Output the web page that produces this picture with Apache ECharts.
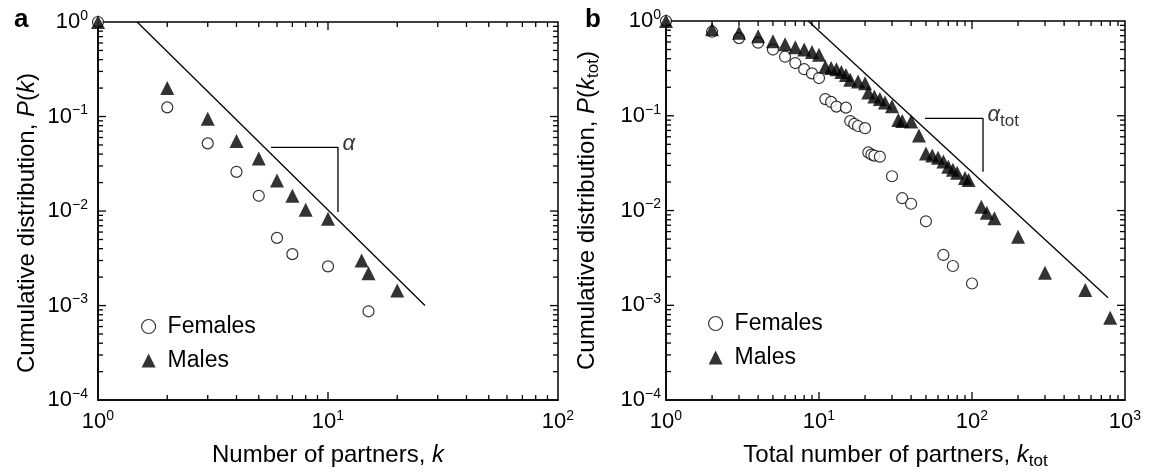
<!DOCTYPE html>
<html><head><meta charset="utf-8">
<script src="https://cdn.jsdelivr.net/npm/echarts@6/dist/echarts.min.js"></script>
<style>html,body{margin:0;padding:0;background:#fff}#c{width:1149px;height:475px}</style>
</head><body><div id="c"></div>
<script>
// ---------- Panel a data ----------
const aFemalesK = [1, 2, 3, 4, 5, 6, 7, 10, 15];
const aFemalesP = [1.0, 0.125, 0.052, 0.026, 0.0145, 0.0052, 0.0035, 0.0026, 0.00087];
const aMalesK = [1, 2, 3, 4, 5, 6, 7, 8, 10, 14, 15, 20];
const aMalesP = [1.0, 0.2, 0.095, 0.055, 0.036, 0.021, 0.0145, 0.0103, 0.0083, 0.0030, 0.0022, 0.00144];
const aFitK = [1.48, 26.4];
const aFitP = [1.0, 0.001];
const aBracketK = [5.65, 11.05, 11.05];
const aBracketP = [0.0472, 0.0472, 0.0098];

// ---------- Panel b data ----------
const bFemalesK = [1, 2, 3, 4, 5, 6, 7, 8, 9, 10, 11, 12, 13, 15, 16, 17, 18, 20, 21, 22, 23, 25, 30, 35, 40, 50, 65, 75, 100];
const bFemalesP = [1.0, 0.77, 0.66, 0.59, 0.50, 0.42, 0.36, 0.31, 0.28, 0.25, 0.15, 0.14, 0.125, 0.122, 0.088, 0.082, 0.078, 0.074, 0.041, 0.039, 0.038, 0.037, 0.023, 0.0135, 0.0118, 0.0077, 0.0034, 0.0026, 0.0017];
const bMalesK = [1, 2, 3, 4, 5, 6, 7, 8, 9, 10, 11, 12, 13, 14, 15, 16, 18, 20, 21, 23, 25, 27, 30, 33, 35, 40, 45, 50, 55, 60, 65, 70, 75, 80, 90, 95, 115, 125, 140, 200, 300, 550, 800];
const bMalesP = [1.0, 0.82, 0.75, 0.69, 0.61, 0.57, 0.53, 0.50, 0.47, 0.44, 0.33, 0.32, 0.31, 0.29, 0.27, 0.24, 0.23, 0.22, 0.176, 0.16, 0.15, 0.138, 0.126, 0.09, 0.088, 0.087, 0.062, 0.040, 0.038, 0.036, 0.033, 0.029, 0.027, 0.025, 0.022, 0.021, 0.011, 0.0095, 0.0083, 0.0053, 0.0022, 0.00145, 0.00074];
const bFitK = [8.5, 775];
const bFitP = [1.0, 0.0012];
const bBracketK = [49.3, 118, 118];
const bBracketP = [0.094, 0.094, 0.0256];

// ---------- Tick labels ----------
const aXTickValues = [1, 10, 100];
const aXTickExps = ['0', '1', '2'];
const bXTickValues = [1, 10, 100, 1000];
const bXTickExps = ['0', '1', '2', '3'];
const yTickValues = [1e-4, 1e-3, 1e-2, 1e-1, 1];
const yTickExps = ['\u22124', '\u22123', '\u22122', '\u22121', '0'];

const FONT = '"Liberation Sans", Arial, Helvetica, sans-serif';
const zip = (a, b) => a.map((v, i) => [v, b[i]]);

function supFormatter(values, exps) {
  return function (v) {
    const i = values.findIndex(t => Math.abs(Math.log10(t) - Math.log10(v)) < 1e-6);
    return i < 0 ? '' : '10{sup|' + exps[i] + '}';
  };
}
function axisLabel(values, exps, margin) {
  return {
    margin: margin, formatter: supFormatter(values, exps), color: '#000',
    fontFamily: FONT, fontSize: 22, lineHeight: 26,
    rich: { sup: { fontSize: 14, lineHeight: 14, verticalAlign: 'top', fontFamily: FONT, color: '#000' } }
  };
}
const nameStyle = {
  fontSize: 24, fontFamily: FONT, color: '#000', lineHeight: 30,
  rich: {
    i: { fontSize: 24, fontStyle: 'italic', fontFamily: FONT, color: '#000', lineHeight: 30 },
    sub: { fontSize: 17, fontFamily: FONT, color: '#000', lineHeight: 17, verticalAlign: 'bottom' }
  }
};
function nameStyleWith(padding) { return Object.assign({}, nameStyle, { padding: padding }); }

function buildTicks(xMin, xMax, yMin, yMax) {
  const out = [];
  for (let d = xMin; d < xMax * 0.999; d *= 10) {
    for (let m = 2; m <= 9; m++) out.push([d * m, yMin, 0, 5]);
    if (d * 10 < xMax * 0.999) out.push([d * 10, yMin, 0, 8]);
  }
  for (let d = yMin; d < yMax * 0.999; d *= 10) {
    for (let m = 2; m <= 9; m++) out.push([xMin, d * m, 1, 5]);
    if (d * 10 < yMax * 0.999) out.push([xMin, d * 10, 1, 8]);
  }
  return out;
}
function tickRenderer(xMin, xMax, yMin, yMax) {
  return function (params, api) {
    const kind = api.value(2), len = api.value(3);
    const st = { stroke: '#000', lineWidth: 1.3 };
    if (kind === 0) {
      const v = api.value(0);
      const b = api.coord([v, yMin]), t = api.coord([v, yMax]);
      return { type: 'group', children: [
        { type: 'line', shape: { x1: b[0], y1: b[1], x2: b[0], y2: b[1] - len }, style: st },
        { type: 'line', shape: { x1: t[0], y1: t[1], x2: t[0], y2: t[1] + len }, style: st }
      ] };
    }
    const v = api.value(1);
    const l = api.coord([xMin, v]), r = api.coord([xMax, v]);
    return { type: 'group', children: [
      { type: 'line', shape: { x1: l[0], y1: l[1], x2: l[0] + len, y2: l[1] }, style: st },
      { type: 'line', shape: { x1: r[0], y1: r[1], x2: r[0] - len, y2: r[1] }, style: st }
    ] };
  };
}

const femaleStyle = { color: '#fff', borderColor: '#000', borderWidth: 1.2 };
const maleStyle = { color: '#000' };

function panelSeries(idx, fK, fP, mK, mP, fitK, fitP, brK, brP, alphaFmt, xMin, xMax) {
  return [
    { name: 'Females', type: 'scatter', xAxisIndex: idx, yAxisIndex: idx, symbol: 'circle', symbolSize: 11,
      itemStyle: femaleStyle, data: zip(fK, fP), clip: false, z: 3 },
    { name: 'Males', type: 'scatter', xAxisIndex: idx, yAxisIndex: idx, symbol: 'triangle', symbolSize: 14,
      itemStyle: maleStyle, data: zip(mK, mP), clip: false, z: 4 },
    { type: 'line', xAxisIndex: idx, yAxisIndex: idx, symbol: 'none', data: zip(fitK, fitP),
      lineStyle: { color: '#000', width: 1.3 }, z: 2 },
    { type: 'line', xAxisIndex: idx, yAxisIndex: idx, symbol: 'none', data: zip(brK, brP),
      lineStyle: { color: '#000', width: 1.3 }, z: 2 },
    { type: 'scatter', xAxisIndex: idx, yAxisIndex: idx, symbolSize: 1, itemStyle: { color: 'rgba(0,0,0,0)' },
      data: [[brK[1], brP[1]]], silent: true,
      label: { show: true, position: 'right', distance: 4, offset: [0, -3], formatter: alphaFmt,
        fontSize: 22, fontStyle: 'italic', fontFamily: FONT, color: '#000', lineHeight: 28,
        rich: { sub: { fontSize: 17, fontStyle: 'normal', fontFamily: FONT, color: '#000', lineHeight: 17, verticalAlign: 'bottom' } } } },
    { type: 'custom', xAxisIndex: idx, yAxisIndex: idx, silent: true, z: 5,
      dimensions: ['x', 'y', 'kind', 'len'], encode: { x: 0, y: 1 },
      renderItem: tickRenderer(xMin, xMax, 1e-4, 1), data: buildTicks(xMin, xMax, 1e-4, 1) }
  ];
}

function xAxisCfg(idx, max, values, exps, name) {
  return { type: 'log', logBase: 10, gridIndex: idx, min: 1, max: max,
    axisLine: { show: true, lineStyle: { color: '#000', width: 1.5 } },
    axisTick: { show: false }, splitLine: { show: false }, minorTick: { show: false },
    axisLabel: axisLabel(values, exps, 9),
    name: name, nameLocation: 'middle', nameGap: 23, nameTextStyle: nameStyle };
}
function yAxisCfg(idx, margin, name, gap, padding) {
  return { type: 'log', logBase: 10, gridIndex: idx, min: 1e-4, max: 1,
    axisLine: { show: true, lineStyle: { color: '#000', width: 1.5 } },
    axisTick: { show: false }, splitLine: { show: false }, minorTick: { show: false },
    axisLabel: axisLabel(yTickValues, yTickExps, margin),
    name: name, nameLocation: 'middle', nameGap: gap, nameTextStyle: nameStyleWith(padding) };
}

function legendCfg(left, top) {
  return { left: left, top: top, orient: 'vertical', itemWidth: 14, itemHeight: 14, itemGap: 11,
    selectedMode: false, textStyle: { fontSize: 23, fontFamily: FONT, color: '#000', padding: [0, 0, 0, 7] },
    data: [
      { name: 'Females', icon: 'circle', itemStyle: femaleStyle },
      { name: 'Males', icon: 'triangle', itemStyle: maleStyle }
    ] };
}

const chart = echarts.init(document.getElementById('c'), null, { renderer: 'canvas' });
chart.setOption({
  animation: false,
  backgroundColor: '#fff',
  title: [
    { text: 'a', left: 9, top: 2, textStyle: { fontSize: 26, fontWeight: 'bold', fontFamily: FONT, color: '#000' } },
    { text: 'b', left: 580, top: 2, textStyle: { fontSize: 26, fontWeight: 'bold', fontFamily: FONT, color: '#000' } }
  ],
  legend: [legendCfg(136, 310), legendCfg(703, 307)],
  grid: [
    { left: 98, top: 22, width: 460, height: 380, show: true, borderColor: '#000', borderWidth: 1.5, backgroundColor: 'transparent' },
    { left: 666, top: 21, width: 459, height: 382, show: true, borderColor: '#000', borderWidth: 1.5, backgroundColor: 'transparent' }
  ],
  xAxis: [
    xAxisCfg(0, 100, aXTickValues, aXTickExps, 'Number of partners, {i|k}'),
    xAxisCfg(1, 1000, bXTickValues, bXTickExps, 'Total number of partners, {i|k}{sub|tot}')
  ],
  yAxis: [
    yAxisCfg(0, 10, 'Cumulative distribution, {i|P}({i|k})', 56, [0, 24, 0, 0]),
    yAxisCfg(1, 5, 'Cumulative distribution, {i|P}({i|k}{sub|tot})', 64, [0, 0, 0, 0])
  ],
  series: [].concat(
    panelSeries(0, aFemalesK, aFemalesP, aMalesK, aMalesP, aFitK, aFitP, aBracketK, aBracketP, '\u03b1', 1, 100),
    panelSeries(1, bFemalesK, bFemalesP, bMalesK, bMalesP, bFitK, bFitP, bBracketK, bBracketP, '\u03b1{sub|tot}', 1, 1000)
  )
});
</script></body></html>
